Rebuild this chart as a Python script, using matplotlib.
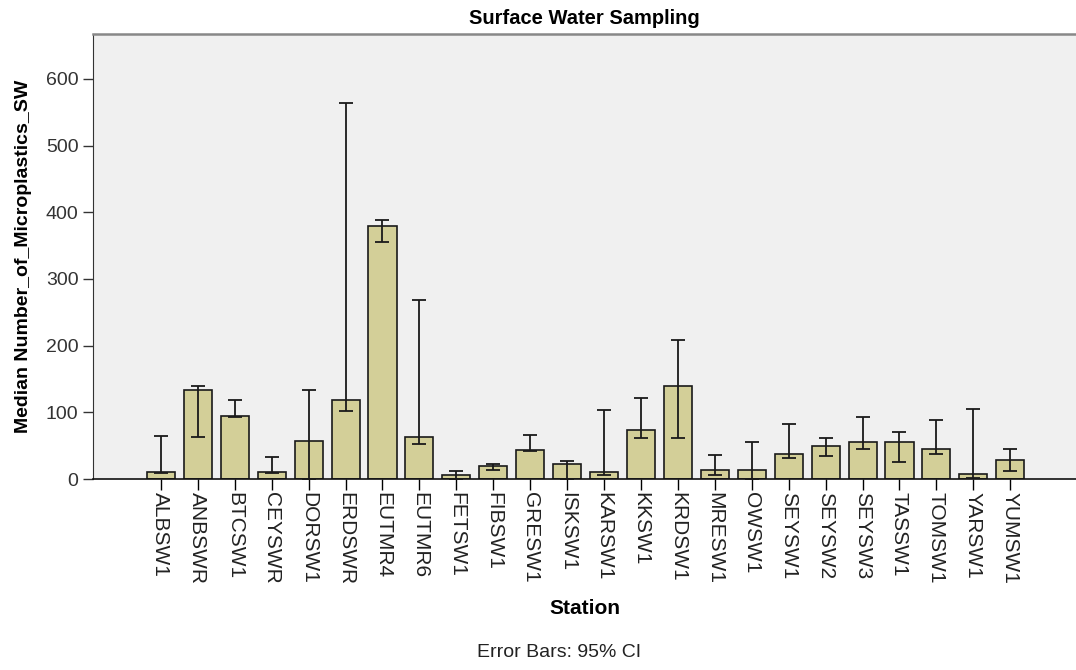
#!/usr/bin/env python3
""" Median number of microplastics per station, surface water sampling.
"""

import numpy as np
import matplotlib
matplotlib.use("Agg")
import matplotlib.pyplot as plt

stations = ["ALBSW1", "ANBSWR", "BTCSW1", "CEYSWR", "DORSW1", "ERDSWR",
            "EUTMR4", "EUTMR6", "FETSW1", "FIBSW1", "GRESW1", "ISKSW1",
            "KARSW1", "KKSW1", "KRDSW1", "MRESW1", "OWSW1", "SEYSW1",
            "SEYSW2", "SEYSW3", "TASSW1", "TOMSW1", "YARSW1", "YUMSW1"]
medians = [10, 133, 95, 10, 57, 118, 379, 63, 6, 20, 43, 23,
           11, 73, 140, 13, 13, 38, 49, 56, 56, 45, 7, 28]
ci_low = [9, 63, 93, 9, 0, 102, 356, 53, 0, 13, 42, 0,
          6, 62, 61, 6, 0, 31, 35, 45, 26, 38, 1, 12]
ci_high = [65, 140, 119, 33, 133, 564, 389, 269, 12, 22, 66, 27,
           104, 122, 208, 36, 56, 82, 61, 93, 70, 89, 105, 45]

plt.rcParams['font.family'] = ['Liberation Sans', 'DejaVu Sans']

fig = plt.figure(figsize=(10.76, 6.70), dpi=100)
ax = fig.add_axes([0.0864, 0.285, 0.9136, 0.664])
ax.set_facecolor("#f0f0f0")

x = np.arange(len(stations))
med = np.array(medians)
yerr = [med - np.array(ci_low), np.array(ci_high) - med]
ax.bar(x, med, width=0.76, color="#d3cf98", edgecolor="#1a1a1a",
       linewidth=1.2, zorder=2)
ax.errorbar(x, med, yerr=yerr, fmt="none", ecolor="#1a1a1a",
            elinewidth=1.3, capsize=5, capthick=1.3, zorder=3)

ax.set_xlim(-1.84, len(stations) - 1 + 1.78)
ax.set_ylim(0, 667)
ax.set_yticks(range(0, 700, 100))
ax.set_xticks(x)
ax.set_xticklabels(stations, rotation=-90, fontsize=15, color="#222222")
ax.tick_params(axis="y", labelsize=14, length=7, width=1, colors="#333333")
ax.tick_params(axis="x", length=8, width=1, pad=1)

ax.spines["top"].set_color("#888888")
ax.spines["top"].set_linewidth(1.8)
ax.spines["right"].set_visible(False)
ax.spines["left"].set_color("#333333")
ax.spines["bottom"].set_color("#111111")
ax.spines["bottom"].set_linewidth(1.2)

ax.set_title("Surface Water Sampling", fontsize=14.5, fontweight="bold", pad=7)
ax.set_ylabel("Median Number_of_Microplastics_SW", fontsize=14,
              fontweight="bold", labelpad=10)
ax.set_xlabel("Station", fontsize=15, fontweight="bold", labelpad=10)
fig.text(0.52, 0.02, "Error Bars: 95% CI", ha="center", fontsize=14,
         color="#222222")

fig.savefig("out.png", dpi=100)
